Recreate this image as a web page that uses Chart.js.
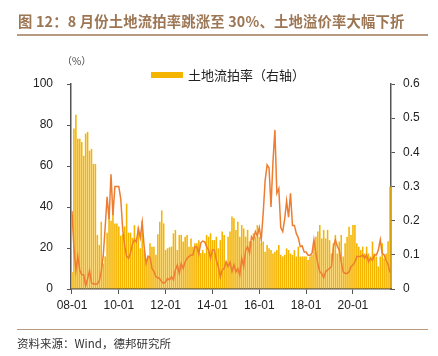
<!DOCTYPE html>
<html>
<head>
<meta charset="utf-8">
<script src="https://cdn.jsdelivr.net/npm/chart.js@4/dist/chart.umd.min.js"></script>
<style>
  html, body { margin: 0; padding: 0; background: #fff; }
  #wrap { position: relative; width: 438px; height: 356px; overflow: hidden; font-family: "Noto Sans CJK SC", "Liberation Sans", sans-serif; }
  #c { position: absolute; left: 0; top: 0; }
  .abs { position: absolute; white-space: nowrap; }
  #title { left: 18px; top: 10px; font-size: 14.3px; font-weight: bold; color: #9c7553; letter-spacing: 0.2px; }
  #tline { left: 17px; top: 34px; width: 411px; height: 2px; background: #b89a80; }
  #fline { left: 17px; top: 329px; width: 411px; height: 1px; background: #b89a80; }
  #src { left: 17px; top: 335px; font-size: 11.5px; color: #333; }
  #unit { left: 62px; top: 53px; font-size: 10px; color: #444; }
  #legbox { left: 151px; top: 72px; width: 32px; height: 6px; background: #f5b400; }
  #legtxt { left: 188px; top: 65px; font-size: 13px; color: #222; }
</style>
</head>
<body>
<div id="wrap">
  <canvas id="c" width="438" height="356"></canvas>
  <div class="abs" id="title">图 12：8 月份土地流拍率跳涨至 30%、土地溢价率大幅下折</div>
  <div class="abs" id="tline"></div>
  <div class="abs" id="unit">（%）</div>
  <div class="abs" id="legbox"></div>
  <div class="abs" id="legtxt">土地流拍率（右轴）</div>
  <div class="abs" id="fline"></div>
  <div class="abs" id="src">资料来源：Wind，德邦研究所</div>
</div>
<script>
// categories: monthly, 2008-01 .. 2021-08
const startYear = 2008, endYear = 2021, endMonth = 8;
const categories = [];
for (let y = startYear; y <= endYear; y++) {
  for (let m = 1; m <= 12; m++) {
    if (y === endYear && m > endMonth) break;
    categories.push(String(y % 100).padStart(2, '0') + '-' + String(m).padStart(2, '0'));
  }
}
// x tick labels shown
const xTickLabels = ['08-01', '10-01', '12-01', '14-01', '16-01', '18-01', '20-01'];
// left axis ticks (%) and right axis ticks
const leftTicks = [0, 20, 40, 60, 80, 100];
const rightTicks = [0, 0.1, 0.2, 0.3, 0.4, 0.5, 0.6];

// 土地溢价率 (%), left axis
const premiumRate = [
  38, 20, 9, 16, 9, 7, 7, 1.5, 5, 9, 3, 2.5,
  2.5, 2.5, 4, 8.5, 16, 30, 45, 34, 56, 36, 50, 50,
  50, 44, 29, 21, 16, 15, 17.5, 22, 24, 23, 29.5, 25,
  32.5, 20.5, 12.5, 16, 15.5, 10, 8.5, 6, 5.5, 5, 3.5, 2.8,
  3.5, 5.2, 4.4, 6, 4.4, 9.3, 11.7, 7.6, 12.4, 10, 13.3, 15,
  15.8, 16.6, 16.6, 20.7, 20.5, 17, 22.4, 23.4, 23, 20.7, 19, 15,
  19, 19, 14, 10.9, 5.9, 9.3, 10, 13.3, 11, 13, 8.5, 11.7,
  8.4, 10, 6.8, 15, 10.9, 19, 20.7, 17.4, 25.5, 24, 28, 26,
  30, 24, 37, 53, 60.5, 59, 40, 62, 77.6, 46.7, 49, 30,
  28, 34, 43, 35, 46.7, 31, 31, 27, 25, 20.7, 21, 18,
  18, 16.5, 16.5, 17.4, 24, 17.4, 12.4, 8.4, 7.6, 5.5, 8.4, 9.3,
  10, 11, 20.7, 24, 20.7, 19, 13.3, 8.4, 7.6, 7.6, 8.4, 10.9,
  11.7, 13.3, 15.8, 15.8, 15.8, 16.6, 15, 16.6, 13.3, 15, 14, 16.6,
  16.6, 19, 24, 17.4, 16.6, 14, 12, 8
];

// 土地流拍率, right axis
const auctionFailRate = [
  0.05, 0.47, 0.51, 0.44, 0.44, 0.43, 0.39, 0.455, 0.46, 0.405, 0.41, 0.366,
  0.366, 0.158, 0.129, 0.197, 0.075, 0.095, 0.165, 0.212, 0.2, 0.26, 0.192, 0.192,
  0.183, 0.156, 0.161, 0.183, 0.25, 0.165, 0.165, 0.15, 0.187, 0.15, 0.18, 0.119,
  0.2, 0.114, 0.085, 0.095, 0.134, 0.124, 0.124, 0.1, 0.16, 0.197, 0.23, 0.192,
  0.114, 0.119, 0.122, 0.124, 0.163, 0.173, 0.114, 0.158, 0.158, 0.139, 0.153, 0.158,
  0.124, 0.148, 0.124, 0.134, 0.134, 0.143, 0.105, 0.114, 0.105, 0.158, 0.153, 0.163,
  0.143, 0.143, 0.153, 0.119, 0.143, 0.168, 0.158, 0.08, 0.153, 0.168, 0.212, 0.207,
  0.173, 0.197, 0.153, 0.187, 0.177, 0.153, 0.173, 0.14, 0.139, 0.163, 0.153, 0.187,
  0.153, 0.134, 0.139, 0.109, 0.129, 0.119, 0.114, 0.104, 0.109, 0.114, 0.129, 0.1,
  0.095, 0.1, 0.119, 0.114, 0.104, 0.1, 0.114, 0.095, 0.124, 0.095, 0.095, 0.095,
  0.095, 0.085, 0.095, 0.1, 0.129, 0.153, 0.168, 0.187, 0.148, 0.173, 0.148, 0.173,
  0.143, 0.104, 0.134, 0.158, 0.104, 0.139, 0.158, 0.095, 0.134, 0.153, 0.182, 0.158,
  0.187, 0.187, 0.134, 0.124, 0.114, 0.124, 0.104, 0.124, 0.104, 0.095, 0.139, 0.104,
  0.095, 0.066, 0.095, 0.134, 0.09, 0.104, 0.14, 0.3
];

const axisColor = '#555555';
const tickFont = { family: '"Liberation Sans", Arial, sans-serif', size: 12 };

new Chart(document.getElementById('c'), {
  type: 'bar',
  data: {
    labels: categories,
    datasets: [
      {
        type: 'line',
        label: '土地溢价率',
        data: premiumRate,
        yAxisID: 'y',
        borderColor: '#ed7d31',
        borderWidth: 1.5,
        pointRadius: 0,
        tension: 0,
        fill: false
      },
      {
        type: 'bar',
        label: '土地流拍率（右轴）',
        data: auctionFailRate,
        yAxisID: 'y1',
        backgroundColor: '#f5b400',
        categoryPercentage: 1,
        barPercentage: 0.8
      }
    ]
  },
  options: {
    responsive: false,
    animation: false,
    layout: { padding: { top: 84, left: 0, right: 0, bottom: 0 } },
    plugins: { legend: { display: false }, tooltip: { enabled: false } },
    scales: {
      x: {
        offset: true,
        afterFit: s => { s.height = 67; },
        grid: { display: true, offset: false, drawOnChartArea: false, drawTicks: true, tickLength: 5, color: axisColor, lineWidth: 1 },
        border: { display: true, color: axisColor, width: 1.5 },
        ticks: {
          autoSkip: false, maxRotation: 0, minRotation: 0, padding: 4,
          color: '#222', font: tickFont,
          callback: function (v) {
            const l = this.getLabelForValue(v);
            return xTickLabels.includes(l) ? l : null;
          }
        }
      },
      y: {
        position: 'left',
        min: 0, max: 100,
        afterFit: s => { s.width = 71; },
        afterBuildTicks: s => { s.ticks = leftTicks.map(v => ({ value: v })); },
        grid: { display: true, drawOnChartArea: false, drawTicks: true, tickLength: 4, color: axisColor },
        border: { display: true, color: axisColor, width: 1.5 },
        ticks: { padding: 14, color: '#222', font: tickFont }
      },
      y1: {
        position: 'right',
        min: 0, max: 0.6,
        afterFit: s => { s.width = 47; },
        afterBuildTicks: s => { s.ticks = rightTicks.map(v => ({ value: v })); },
        grid: { display: true, drawOnChartArea: false, drawTicks: true, tickLength: 4, color: axisColor },
        border: { display: true, color: axisColor, width: 1.5 },
        ticks: {
          padding: 8, color: '#222', font: tickFont,
          callback: v => (v === 0 ? '0' : v.toFixed(1))
        }
      }
    }
  }
});
</script>
</body>
</html>
